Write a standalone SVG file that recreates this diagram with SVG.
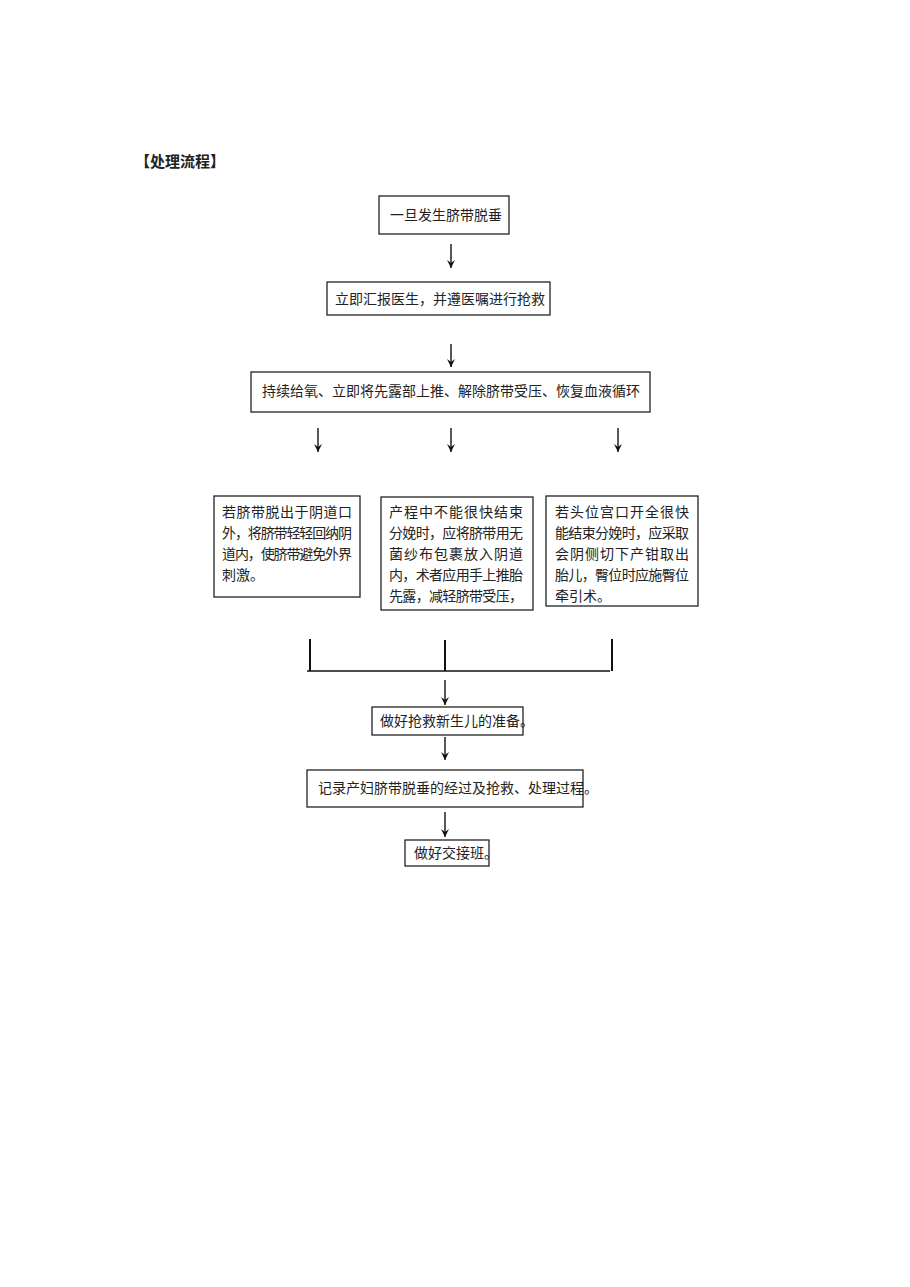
<svg xmlns="http://www.w3.org/2000/svg" width="910" height="1287" viewBox="0 0 910 1287">
<style>
rect{fill:#fff;stroke:#222;stroke-width:1.3}
text{font-family:"Noto Sans CJK SC","Noto Sans",sans-serif;font-size:14px;fill:#222}
.c line{stroke:#111;stroke-width:1.4}
.b line{stroke:#111;stroke-width:2}
</style>
<defs><marker id="a" markerWidth="8" markerHeight="8" refX="8" refY="4" orient="auto" markerUnits="userSpaceOnUse"><path d="M0,0 L8,4 L0,8 L3,4z" fill="#111"/></marker></defs>
<rect width="910" height="1287" style="stroke:none"/>
<text x="135" y="167" style="font-weight:bold;font-size:15px">【处理流程】</text>
<g id="n1"><rect x="379" y="196" width="130" height="38"/><text x="390" y="220">一旦发生脐带脱垂</text></g>
<g id="n2"><rect x="327" y="282" width="223" height="33"/><text x="335" y="304">立即汇报医生，并遵医嘱进行抢救</text></g>
<g id="n3"><rect x="251" y="372" width="399" height="40"/><text x="262" y="396">持续给氧、立即将先露部上推、解除脐带受压、恢复血液循环</text></g>
<g id="n4"><rect x="214" y="496" width="146" height="101"/>
<text x="222" y="517" textLength="130">若脐带脱出于阴道口</text><text x="222" y="538" textLength="130">外，将脐带轻轻回纳阴</text><text x="222" y="559" textLength="130">道内，使脐带避免外界</text><text x="222" y="580">刺激。</text></g>
<g id="n5"><rect x="381" y="497" width="152" height="113"/>
<text x="389" y="517" textLength="134">产程中不能很快结束</text><text x="389" y="538" textLength="134">分娩时，应将脐带用无</text><text x="389" y="559" textLength="134">菌纱布包裹放入阴道</text><text x="389" y="580" textLength="134">内，术者应用手上推胎</text><text x="389" y="601" textLength="134">先露，减轻脐带受压，</text></g>
<g id="n6"><rect x="546" y="496" width="152" height="110"/>
<text x="555" y="517" textLength="134">若头位宫口开全很快</text><text x="555" y="538" textLength="134">能结束分娩时，应采取</text><text x="555" y="559" textLength="134">会阴侧切下产钳取出</text><text x="555" y="580" textLength="134">胎儿，臀位时应施臀位</text><text x="555" y="601">牵引术。</text></g>
<g id="n7"><rect x="372" y="707" width="151" height="28"/><text x="380" y="726">做好抢救新生儿的准备。</text></g>
<g id="n8"><rect x="307" y="770" width="276" height="37"/><text x="318" y="793">记录产妇脐带脱垂的经过及抢救、处理过程。</text></g>
<g id="n9"><rect x="405" y="840" width="84" height="26"/><text x="414" y="858">做好交接班。</text></g>
<g class="c">
<line x1="451" y1="244" x2="451" y2="268" marker-end="url(#a)"/>
<line x1="451" y1="344" x2="451" y2="367" marker-end="url(#a)"/>
<line x1="318" y1="428" x2="318" y2="452" marker-end="url(#a)"/>
<line x1="451" y1="428" x2="451" y2="452" marker-end="url(#a)"/>
<line x1="618" y1="428" x2="618" y2="452" marker-end="url(#a)"/>
<line x1="445" y1="680" x2="445" y2="705" marker-end="url(#a)"/>
<line x1="445" y1="737" x2="445" y2="760" marker-end="url(#a)"/>
<line x1="445" y1="812" x2="445" y2="837" marker-end="url(#a)"/>
</g>
<g class="b">
<line x1="310" y1="639" x2="310" y2="671"/>
<line x1="445" y1="640" x2="445" y2="671"/>
<line x1="612" y1="639" x2="612" y2="671"/>
<line x1="307" y1="671" x2="610" y2="671" style="stroke-width:1.4"/>
</g>
</svg>
